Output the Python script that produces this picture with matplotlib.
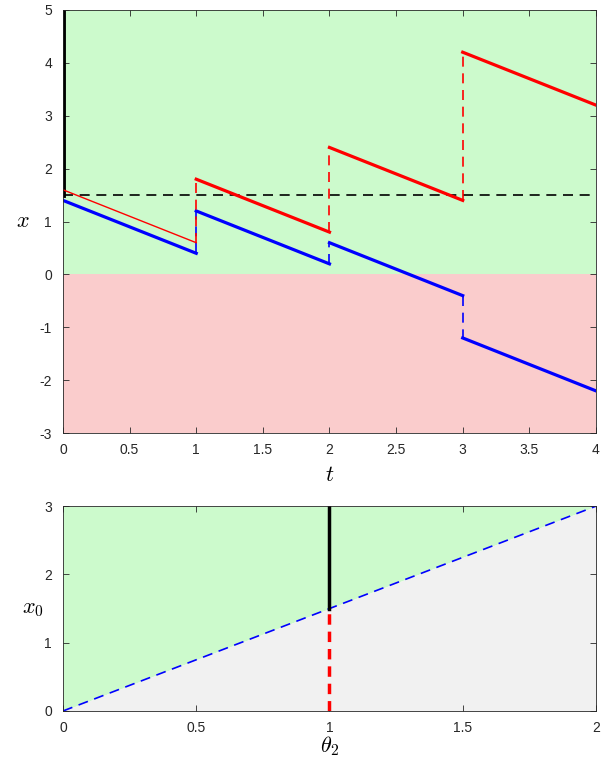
import numpy as np
import matplotlib.pyplot as plt

plt.rcParams['font.family'] = ['Liberation Sans', 'DejaVu Sans']
plt.rcParams['mathtext.fontset'] = 'cm'
plt.rcParams['axes.unicode_minus'] = False

green = (0.80, 0.98, 0.80)
pink = (0.98, 0.80, 0.80)
grey = (0.945, 0.945, 0.945)

# top panel: trajectories x(t)
t_seg = [(0, 1), (1, 2), (2, 3), (3, 4)]
blue_start = [1.4, 1.2, 0.6, -1.2]
blue_end = [0.4, 0.2, -0.4, -2.2]
red_start = [1.6, 1.8, 2.4, 4.2]
red_end = [0.6, 0.8, 1.4, 3.2]
threshold = 1.5

# bottom panel: boundary x0 = 1.5 * theta2
theta = [0, 2]
boundary = [0, 3]
theta_mark = 1.0
x0_mark = 1.5

fig = plt.figure(figsize=(6.08, 7.6), dpi=100)
ax1 = fig.add_axes([0.1036, 0.430, 0.8766, 0.557])
ax2 = fig.add_axes([0.1036, 0.0645, 0.8766, 0.2695])

ax1.axhspan(0, 5, color=green, lw=0, zorder=0)
ax1.axhspan(-3, 0, color=pink, lw=0, zorder=0)
ax1.axhline(threshold, color='k', ls=(0, (6, 4)), lw=1.2, zorder=2)
ax1.plot([0, 0], [threshold, 5], color='k', lw=3.5, zorder=3)

for i, (a, b) in enumerate(t_seg):
    ax1.plot([a, b], [blue_start[i], blue_end[i]], color='b', lw=2.3, zorder=4)
    ax1.plot([a, b], [red_start[i], red_end[i]], color='r',
             lw=1.0 if i == 0 else 2.3, zorder=4)
    if i > 0:
        ax1.plot([a, a], [blue_end[i - 1], blue_start[i]], color='b',
                 ls=(0, (6, 4)), lw=1.2, zorder=3)
        ax1.plot([a, a], [red_end[i - 1], red_start[i]], color='r',
                 ls=(0, (6, 4)), lw=1.2, zorder=4)

ax1.set_xlim(0, 4)
ax1.set_ylim(-3, 5)
ax1.set_xticks(np.arange(0, 4.01, 0.5))
ax1.set_xticklabels(['0', '0.5', '1', '1.5', '2', '2.5', '3', '3.5', '4'])
ax1.set_yticks(range(-3, 6))
ax1.set_xlabel('$t$', fontsize=16, labelpad=6)
ax1.set_ylabel('$x$', fontsize=16, rotation=0, labelpad=12, va='center')

ax2.fill_between(theta, boundary, 3, color=green, lw=0, zorder=0)
ax2.fill_between(theta, 0, boundary, color=grey, lw=0, zorder=0)
ax2.plot(theta, boundary, color='b', ls=(0, (6, 4)), lw=1.2, zorder=2)
ax2.plot([theta_mark, theta_mark], [x0_mark, 3], color='k', lw=2.5, zorder=3)
ax2.plot([theta_mark, theta_mark], [0, x0_mark], color='r', ls=(0, (3, 2)),
         lw=2.5, zorder=3)

ax2.set_xlim(0, 2)
ax2.set_ylim(0, 3)
ax2.set_xticks([0, 0.5, 1, 1.5, 2])
ax2.set_xticklabels(['0', '0.5', '1', '1.5', '2'])
ax2.set_yticks([0, 1, 2, 3])
ax2.set_xlabel(r'$\theta_2$', fontsize=16, labelpad=0)
ax2.set_ylabel('$x_0$', fontsize=16, rotation=0, labelpad=8, va='center')

for ax in (ax1, ax2):
    ax.tick_params(direction='in', top=True, right=True, labelsize=10,
                   length=4, width=0.6, colors='#262626')
    ax.tick_params(axis='x', pad=7)
    ax.tick_params(axis='y', pad=8)
    for s in ax.spines.values():
        s.set_linewidth(0.6)
        s.set_color('#262626')
        s.set_zorder(5)

fig.savefig('out.png', dpi=100)
